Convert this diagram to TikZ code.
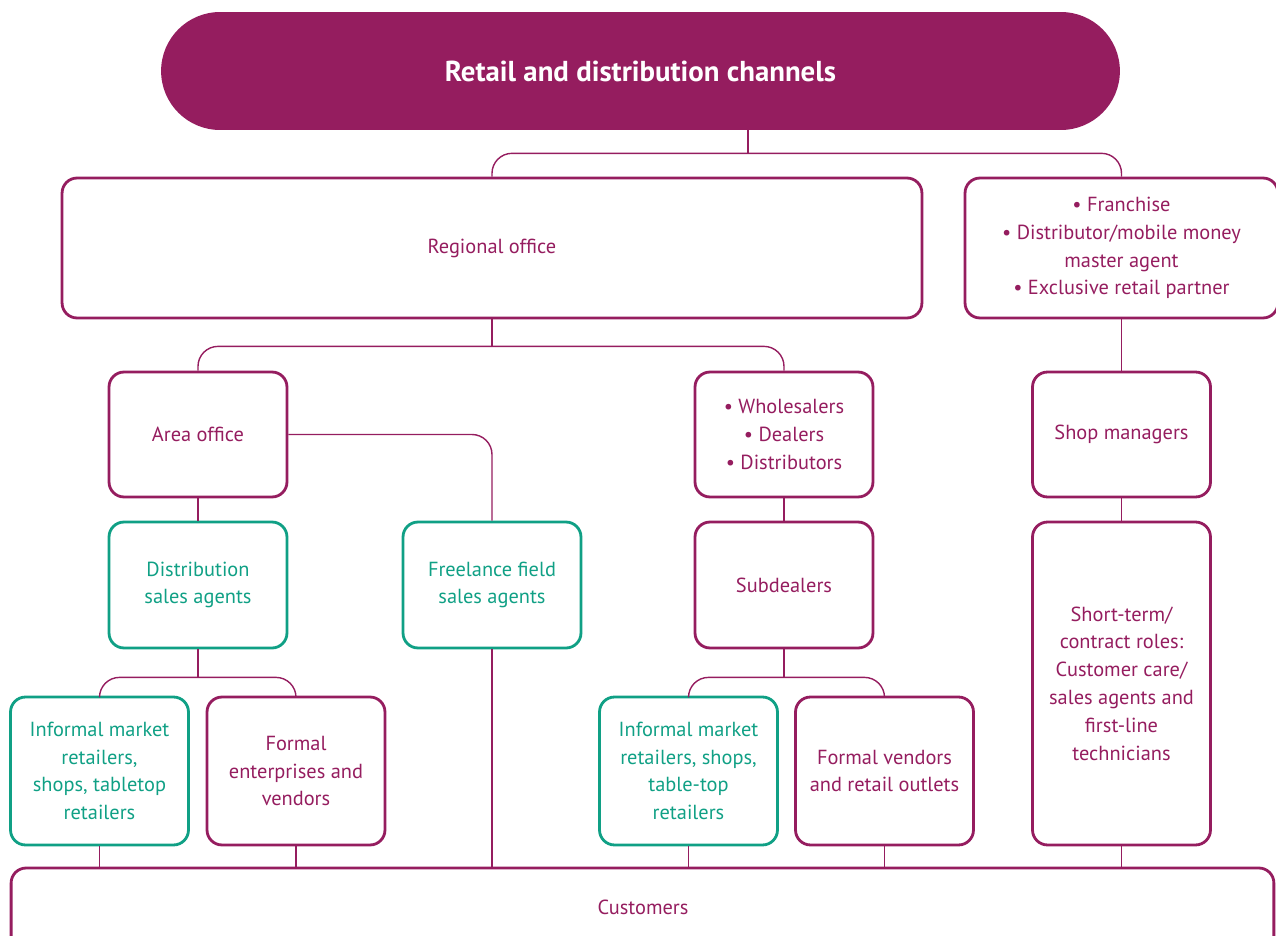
\documentclass[tikz,border=0pt]{standalone}
\usepackage{fontspec}
\setmainfont{PT Sans}
\usepackage{tikz}
\usetikzlibrary{positioning}

\definecolor{plum}{HTML}{951D5F}
\definecolor{teal}{HTML}{10A085}

\tikzset{
  box/.style={draw=plum, text=plum, line width=1.6pt, rounded corners=0.3cm,
    align=center, inner sep=0pt, font=\fontsize{11.6}{15.8}\selectfont},
  greenbox/.style={box, draw=teal, text=teal},
  link/.style={draw=plum, line width=0.8pt, rounded corners=0.4cm}
}

\begin{document}
\begin{tikzpicture}[x=0.02cm, y=-0.02cm]
		\useasboundingbox (0,0) rectangle (1276,936);
		\clip (0,0) rectangle (1276,936);

		% Title
		\node[fill=plum, text=white, rounded corners=1.18cm, inner sep=0pt,
		  minimum width=19.18cm, minimum height=2.36cm,
		  font=\fontsize{16.4}{18}\selectfont\bfseries] (title) at (640.5,71)
		  {Retail and distribution channels};

		% Second level
		\node[box, minimum width=17.2cm, minimum height=2.8cm] (regional) at (492,248) {Regional office};
		\node[box, minimum width=6.26cm, minimum height=2.8cm] (franchise) at (1121.5,248)
		  {• Franchise\\ • Distributor/mobile money\\ master agent\\ • Exclusive retail partner};

		% Third level
		\node[box, minimum width=3.56cm, minimum height=2.5cm] (area) at (198,434.5) {Area office};
		\node[box, minimum width=3.56cm, minimum height=2.5cm] (wholesale) at (784,434.5)
		  {• Wholesalers\\ • Dealers\\ • Distributors};
		\node[box, minimum width=3.56cm, minimum height=2.5cm] (managers) at (1121.5,434.5) {Shop managers};

		% Fourth level
		\node[greenbox, minimum width=3.56cm, minimum height=2.52cm] (distagents) at (198,585)
		  {Distribution\\ sales agents};
		\node[greenbox, minimum width=3.56cm, minimum height=2.52cm] (freelance) at (492,585)
		  {Freelance field\\ sales agents};
		\node[box, minimum width=3.56cm, minimum height=2.52cm] (subdealers) at (784,585) {Subdealers};
		\node[box, minimum width=3.56cm, minimum height=6.46cm] (shortterm) at (1121.5,683.5)
		  {Short-term/\\ contract roles:\\ Customer care/\\ sales agents and\\ first-line\\ technicians};

		% Fifth level
		\node[greenbox, minimum width=3.56cm, minimum height=2.96cm] (informalA) at (99.5,771)
		  {Informal market\\ retailers,\\ shops, tabletop\\ retailers};
		\node[box, minimum width=3.56cm, minimum height=2.96cm] (formalA) at (296,771)
		  {Formal\\ enterprises and\\ vendors};
		\node[greenbox, minimum width=3.56cm, minimum height=2.96cm] (informalB) at (688.5,771)
		  {Informal market\\ retailers, shops,\\ table-top\\ retailers};
		\node[box, minimum width=3.56cm, minimum height=2.96cm] (formalB) at (884.5,771)
		  {Formal vendors\\ and retail outlets};

		% Customers
		\node[box, minimum width=25.26cm, minimum height=2.8cm] (customers) at (642.5,938) {};
		\node[text=plum, font=\fontsize{11.6}{15.8}\selectfont] (custlabel) at (643,907) {Customers};

		% Connectors
		\draw[link] ([xshift=2.15cm]title.south) -- ++(0,23) coordinate (j1);
		\draw[link] (regional.north) |- (j1) -| (franchise.north);
		\draw[link] (regional.south) -- ++(0,27) coordinate (j2);
		\draw[link] (area.north) |- (j2) -| (wholesale.north);
		\draw[link] (area.east) -| (freelance.north);
		\draw[link] (franchise.south) -- (managers.north);
		\draw[link] (area.south) -- (distagents.north);
		\draw[link] (wholesale.south) -- (subdealers.north);
		\draw[link] (managers.south) -- (shortterm.north);
		\draw[link] (distagents.south) -- ++(0,28) coordinate (j3);
		\draw[link] (informalA.north) |- (j3) -| (formalA.north);
		\draw[link] (subdealers.south) -- ++(0,28) coordinate (j4);
		\draw[link] (informalB.north) |- (j4) -| (formalB.north);
		\draw[link] (freelance.south) -- (freelance.south |- customers.north);
		\draw[link] (informalA.south) -- (informalA.south |- customers.north);
		\draw[link] (formalA.south) -- (formalA.south |- customers.north);
		\draw[link] (informalB.south) -- (informalB.south |- customers.north);
		\draw[link] (formalB.south) -- (formalB.south |- customers.north);
		\draw[link] (shortterm.south) -- (shortterm.south |- customers.north);
	\end{tikzpicture}
\end{document}
